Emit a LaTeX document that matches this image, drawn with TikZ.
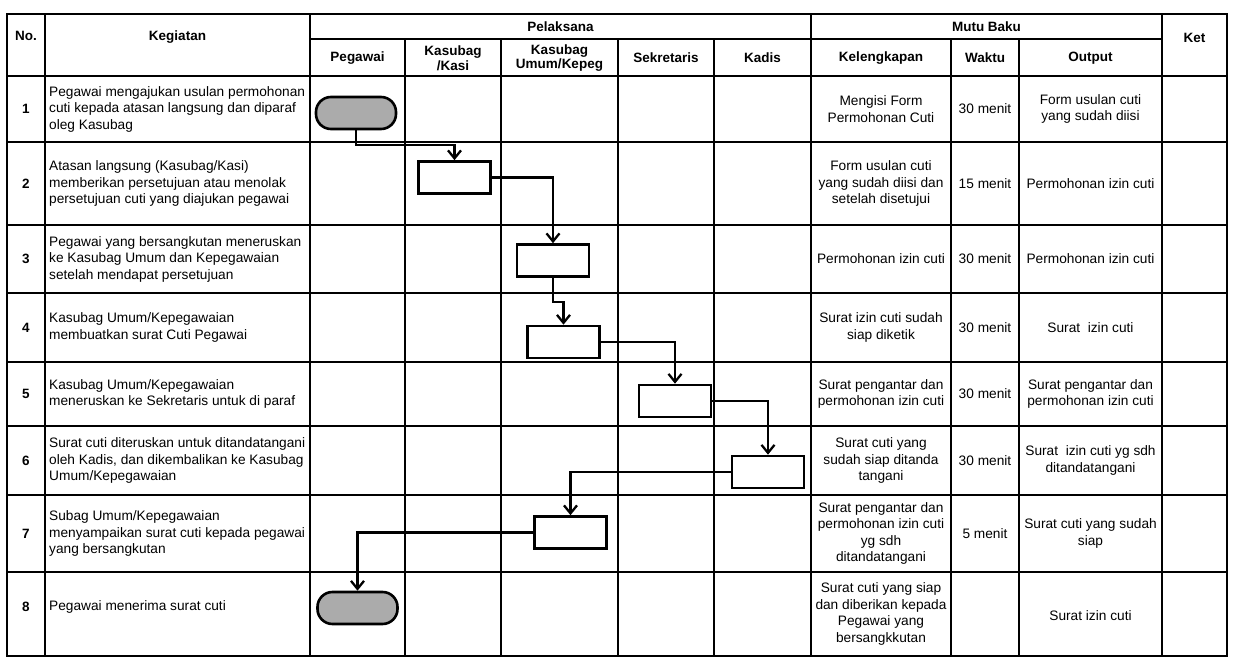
\documentclass[tikz,border=0pt]{standalone}
\usepackage{fontspec}
\setmainfont{Liberation Sans}
\usetikzlibrary{arrows.meta}
\tikzset{
  grid/.style={line width=1.6pt},
  procbox/.style={draw, line width=2.6pt, minimum width=72pt, minimum height=32pt, inner sep=0pt},
  term/.style={draw, line width=2.6pt, fill=black!33, rounded corners=15pt, minimum width=80pt, minimum height=32pt, inner sep=0pt},
  conn/.style={line width=2.3pt, -{Straight Barb[length=8pt,width=13pt]}},
  body/.style={font=\fontsize{13.7}{16.5}\selectfont, align=left, anchor=west, inner sep=0pt},
  cell/.style={font=\fontsize{13.7}{16.5}\selectfont, align=center, inner sep=0pt},
  head/.style={font=\bfseries\fontsize{13.5}{14.5}\selectfont, align=center, inner sep=0pt},
}
\begin{document}
\begin{tikzpicture}[x=1pt,y=-1pt]
\useasboundingbox (0,0) rectangle (1235,660);
\fill[white] (0,0) rectangle (1235,660);

% table grid
\draw[grid] (7,14) rectangle (1227,656);
\draw[grid] (310,39) -- (1162,39);
\draw[grid] (7,76) -- (1227,76);
\foreach \y in {142,225,293,362,426,495,572} \draw[grid] (7,\y) -- (1227,\y);
\foreach \x in {45,310,811,1162} \draw[grid] (\x,14) -- (\x,656);
\foreach \x in {405,501,618,714,951,1019} \draw[grid] (\x,39) -- (\x,656);

% header
\node[head] (hno) at (26,36) {No.};
\node[head] (hkeg) at (177.5,37) {Kegiatan};
\node[head] (hpel) at (560.5,27) {Pelaksana};
\node[head] (hmutu) at (986.5,27) {Mutu Baku};
\node[head] (hket) at (1194.5,38) {Ket};
\node[head] (hpeg) at (357.5,58) {Pegawai};
\node[head] (hkas) at (453,58) {Kasubag\\/Kasi};
\node[head] (hkum) at (559.5,58) {Kasubag\\Umum/Kepeg};
\node[head] (hsek) at (666,58) {Sekretaris};
\node[head] (hkad) at (762.5,58) {Kadis};
\node[head] (hkel) at (881,58) {Kelengkapan};
\node[head] (hwak) at (985,58) {Waktu};
\node[head] (hout) at (1090.5,58) {Output};

% numbers
\node[head] (n1) at (26,109) {1};
\node[head] (n2) at (26,183.5) {2};
\node[head] (n3) at (26,259) {3};
\node[head] (n4) at (26,327.5) {4};
\node[head] (n5) at (26,394) {5};
\node[head] (n6) at (26,460.5) {6};
\node[head] (n7) at (26,533.5) {7};
\node[head] (n8) at (26,607) {8};

% kegiatan
\node[body] (g1) at (49,109) {Pegawai mengajukan usulan permohonan\\cuti kepada atasan langsung dan diparaf\\oleg Kasubag};
\node[body] (g2) at (49,183.5) {Atasan langsung (Kasubag/Kasi)\\memberikan persetujuan atau menolak\\persetujuan cuti yang diajukan pegawai};
\node[body] (g3) at (49,259) {Pegawai yang bersangkutan meneruskan\\ke Kasubag Umum dan Kepegawaian\\setelah mendapat persetujuan};
\node[body] (g4) at (49,327.5) {Kasubag Umum/Kepegawaian\\membuatkan surat Cuti Pegawai};
\node[body] (g5) at (49,394) {Kasubag Umum/Kepegawaian\\meneruskan ke Sekretaris untuk di paraf};
\node[body] (g6) at (49,460.5) {Surat cuti diteruskan untuk ditandatangani\\oleh Kadis, dan dikembalikan ke Kasubag\\Umum/Kepegawaian};
\node[body] (g7) at (49,533.5) {Subag Umum/Kepegawaian\\menyampaikan surat cuti kepada pegawai\\yang bersangkutan};
\node[body] (g8) at (49,607) {Pegawai menerima surat cuti};

% kelengkapan
\node[cell] (k1) at (881,109) {Mengisi Form\\Permohonan Cuti};
\node[cell] (k2) at (881,183.5) {Form usulan cuti\\yang sudah diisi dan\\setelah disetujui};
\node[cell] (k3) at (881,259) {Permohonan izin cuti};
\node[cell] (k4) at (881,327.5) {Surat izin cuti sudah\\siap diketik};
\node[cell] (k5) at (881,394) {Surat pengantar dan\\permohonan izin cuti};
\node[cell] (k6) at (881,460.5) {Surat cuti yang\\sudah siap ditanda\\tangani};
\node[cell] (k7) at (881,533.5) {Surat pengantar dan\\permohonan izin cuti\\yg sdh\\ditandatangani};
\node[cell] (k8) at (881,614) {Surat cuti yang siap\\dan diberikan kepada\\Pegawai yang\\bersangkkutan};

% waktu
\node[cell] (w1) at (985,109) {30 menit};
\node[cell] (w2) at (985,183.5) {15 menit};
\node[cell] (w3) at (985,259) {30 menit};
\node[cell] (w4) at (985,327.5) {30 menit};
\node[cell] (w5) at (985,394) {30 menit};
\node[cell] (w6) at (985,460.5) {30 menit};
\node[cell] (w7) at (985,533.5) {5 menit};

% output
\node[cell] (o1) at (1090.5,109) {Form usulan cuti\\yang sudah diisi};
\node[cell] (o2) at (1090.5,183.5) {Permohonan izin cuti};
\node[cell] (o3) at (1090.5,259) {Permohonan izin cuti};
\node[cell] (o4) at (1090.5,327.5) {Surat\ \ izin cuti};
\node[cell] (o5) at (1090.5,394) {Surat pengantar dan\\permohonan izin cuti};
\node[cell] (o6) at (1090.5,460.5) {Surat\ \ izin cuti yg sdh\\ditandatangani};
\node[cell] (o7) at (1090.5,533.5) {Surat cuti yang sudah\\siap};
\node[cell] (o8) at (1090.5,616) {Surat izin cuti};

% flow shapes
\node[term] (t1) at (356,113) {};
\node[procbox] (b2) at (454.5,177.5) {};
\node[procbox] (b3) at (553,260.5) {};
\node[procbox] (b4) at (563.5,342) {};
\node[procbox] (b5) at (675,401) {};
\node[procbox] (b6) at (768,472) {};
\node[procbox] (b7) at (570.5,532.5) {};
\node[term] (t8) at (357.5,608) {};

\coordinate (c1) at (454.5,145);
\coordinate (c3) at (563.5,302);

\draw[conn] (t1.south) |- (c1) -- (b2.north);
\draw[conn] (b2.east) -| (b3.north);
\draw[conn] (b3.south) |- (c3) -- (b4.north);
\draw[conn] (b4.east) -| (b5.north);
\draw[conn] (b5.east) -| (b6.north);
\draw[conn] (b6.west) -| (b7.north);
\draw[conn] (b7.west) -| (t8.north);
\end{tikzpicture}
\end{document}
